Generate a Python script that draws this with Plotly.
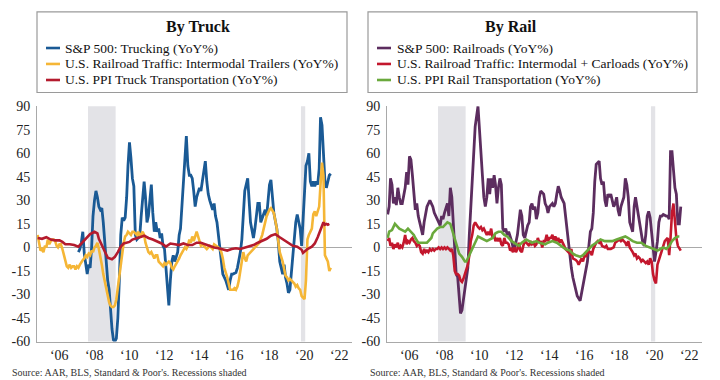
import plotly.graph_objects as go
from plotly.subplots import make_subplots

# ---------------- DATA ----------------
truck_sp_dates = ["2007-05","2007-06","2007-07","2007-08","2007-09","2007-10","2007-11","2007-12",
 "2008-01","2008-02","2008-03","2008-04","2008-05","2008-06","2008-07","2008-08","2008-09","2008-10","2008-11","2008-12",
 "2009-01","2009-02","2009-03","2009-04","2009-05","2009-06","2009-07","2009-08","2009-09","2009-10","2009-11","2009-12",
 "2010-01","2010-02","2010-03","2010-04","2010-05","2010-06","2010-07","2010-08","2010-09","2010-10","2010-11","2010-12",
 "2011-02","2011-03","2011-04","2011-05","2011-07","2011-08","2011-09","2011-10","2011-11","2011-12",
 "2012-01","2012-02","2012-03","2012-04","2012-05","2012-07","2012-08","2012-09","2012-10","2012-11",
 "2013-01","2013-02","2013-03","2013-04","2013-05","2013-07","2013-08","2013-09","2013-10","2013-11","2013-12",
 "2014-01","2014-02","2014-04","2014-05","2014-06","2014-07","2014-08","2014-09","2014-10","2014-11",
 "2015-01","2015-02","2015-03","2015-04","2015-05","2015-06","2015-07","2015-08","2015-10","2015-11","2015-12",
 "2016-01","2016-02","2016-03","2016-05","2016-06","2016-07","2016-08","2016-09","2016-10","2016-11",
 "2017-01","2017-03","2017-05","2017-06","2017-08","2017-09","2017-10","2017-12",
 "2018-01","2018-02","2018-04","2018-05","2018-06","2018-07","2018-09","2018-10","2018-11",
 "2019-01","2019-02","2019-03","2019-04","2019-05","2019-06","2019-07","2019-08","2019-09","2019-10","2019-11",
 "2020-01","2020-02","2020-03","2020-05","2020-06","2020-07","2020-08","2020-09","2020-10","2020-11","2020-12",
 "2021-01","2021-02","2021-03","2021-04","2021-05","2021-06","2021-07","2021-08","2021-09","2021-10"]
truck_sp_vals = [-3,-1,3,10,-4,-10,-17,-11,
 -13,0,20,30,36,32,26,24,25,16,2,-8,
 -21,-27,-40,-52,-59,-60,-58,-45,-21,8,19,17,
 19,32,52,67,57,44,39,8,5,6,7,20,
 42,32,16,20,40,22,10,16,10,12,
 6,9,1,-1,-13,-37,-21,-9,-5,-9,
 -3,8,12,26,46,71,52,46,46,44,36,
 26,32,38,36,42,46,55,42,34,30,
 24,28,20,16,8,-1,-9,-17,-21,-25,-27,
 -21,-17,-17,-16,-13,-9,-3,5,22,36,
 44,16,6,12,28,28,16,22,
 24,20,40,43,32,22,12,4,-9,
 -17,-11,-19,-23,-29,-27,-17,-9,5,16,21,
 12,1,20,52,55,60,42,39,42,39,42,
 40,50,83,78,61,42,38,43,46,47]

truck_rail_dates = ["2005-01","2005-02","2005-03","2005-04","2005-05","2005-06","2005-07","2005-08","2005-09","2005-10","2005-11","2005-12",
 "2006-01","2006-02","2006-03","2006-04","2006-05","2006-06","2006-07","2006-08","2006-09","2006-10","2006-11","2006-12",
 "2007-01","2007-02","2007-03","2007-04","2007-05","2007-06","2007-07","2007-08","2007-09","2007-10","2007-11","2007-12",
 "2008-01","2008-02","2008-03","2008-04","2008-05","2008-06","2008-07","2008-08","2008-09","2008-10","2008-11","2008-12",
 "2009-01","2009-02","2009-03","2009-04","2009-05","2009-06","2009-07","2009-08","2009-09","2009-10","2009-11","2009-12",
 "2010-01","2010-02","2010-03","2010-04","2010-05","2010-06","2010-07","2010-08","2010-09","2010-10","2010-11",
 "2011-01","2011-02","2011-03","2011-04","2011-05","2011-06","2011-07","2011-08","2011-09","2011-10","2011-11","2011-12",
 "2012-02","2012-03","2012-04","2012-05","2012-07","2012-08","2012-09","2012-10","2012-11",
 "2013-01","2013-02","2013-03","2013-04","2013-05","2013-06","2013-07","2013-08","2013-09","2013-10","2013-11","2013-12",
 "2014-02","2014-03","2014-04","2014-05","2014-06","2014-08","2014-09","2014-11",
 "2015-01","2015-02","2015-04","2015-05","2015-06","2015-07","2015-08","2015-09","2015-11","2015-12",
 "2016-01","2016-03","2016-04","2016-05","2016-06","2016-07","2016-08","2016-09","2016-10","2016-11","2016-12",
 "2017-01","2017-03","2017-05","2017-07","2017-09","2017-11","2017-12",
 "2018-02","2018-04","2018-05","2018-07","2018-08","2018-09","2018-10","2018-11",
 "2019-01","2019-02","2019-03","2019-04","2019-05","2019-06","2019-07","2019-09","2019-10","2019-11","2019-12",
 "2020-01","2020-02","2020-04","2020-05","2020-06","2020-07","2020-08","2020-09","2020-10","2020-11","2020-12",
 "2021-01","2021-02","2021-03","2021-04","2021-05","2021-06","2021-07","2021-08","2021-09","2021-10"]
truck_rail_vals = [8,3,-2,-1,-3,1,0,5,2,4,5,5,
 4,1,0,2,2,-1,-5,-10,-12,-13,-11,-13,
 -12,-12,-14,-12,-13,-11,-9,-8,-7,-5,-6,-4,
 -5,-2,-3,0,1,3,-1,-5,-11,-17,-22,-27,
 -31,-35,-37,-38,-38,-37,-33,-25,-17,-9,-3,3,
 7,8,10,9,8,10,10,9,8,10,7,
 10,8,3,-1,-3,-4,-3,-5,-7,-5,-5,-9,
 -11,-12,-10,-11,-9,-10,-13,-14,-12,
 -9,-7,-5,-3,-1,0,-1,1,5,3,7,4,
 10,7,3,1,2,0,-1,1,
 -1,2,1,0,-1,-3,-7,-13,-19,-24,
 -27,-27,-26,-27,-25,-21,-15,-9,-3,-7,-9,
 -5,-3,-1,1,3,8,12,
 20,24,25,22,18,12,4,-3,
 -9,-15,-18,-19,-21,-20,-21,-23,-25,-24,-26,
 -27,-31,-33,-21,5,8,10,12,21,23,20,
 24,26,40,54,46,-5,-7,-9,-15,-13]

truck_ppi_dates = ["2005-01","2005-04","2005-07","2005-10","2006-01","2006-04","2006-06","2006-08","2006-11",
 "2007-02","2007-05","2007-07","2007-09","2007-11","2008-01","2008-04","2008-06","2008-07","2008-09","2008-11",
 "2009-01","2009-04","2009-06","2009-08","2009-10","2009-12","2010-02","2010-04","2010-06","2010-08","2010-11",
 "2011-02","2011-05","2011-08","2011-11","2012-02","2012-05","2012-08","2012-11","2013-02","2013-05","2013-08","2013-11",
 "2014-02","2014-05","2014-08","2014-11","2015-02","2015-05","2015-08","2015-11","2016-02","2016-05","2016-08","2016-11",
 "2017-02","2017-05","2017-08","2017-11","2018-02","2018-05","2018-08","2018-11","2019-02","2019-05","2019-08","2019-11",
 "2020-01","2020-02","2020-03","2020-04","2020-06","2020-09","2020-11","2021-01","2021-03","2021-04","2021-05","2021-06","2021-07","2021-08","2021-09"]
truck_ppi_vals = [6,5.5,6.5,5,4.5,4.5,3.5,2,2,
 1.5,0.5,2.5,4.5,6.5,8.5,10,9,5.5,1.5,-2.5,
 -6.5,-7.5,-6,-3,0.5,2.5,3,3.5,5,5.5,6.5,
 7.5,6,5,4,2.5,0.5,2.5,2,1.5,2.5,1.5,1.5,
 3,3,2,0.5,0,-0.5,-1.5,-2,-1,-0.5,-1,0,
 0.5,1.5,3,4.5,5.5,7.5,8.5,6.5,4.5,2.5,1,0.5,
 -0.5,-1.5,-3.5,-2.5,-1,0.5,2.5,6.5,11,14,16,14.5,15,14.5,15]

rail_sp_dates = ["2005-01","2005-02","2005-03","2005-04","2005-05","2005-06","2005-07","2005-08","2005-09","2005-10","2005-11","2005-12",
 "2006-01","2006-02","2006-03","2006-04","2006-05","2006-06","2006-07","2006-08","2006-09","2006-10","2006-11","2006-12",
 "2007-01","2007-02","2007-03","2007-04","2007-06","2007-07","2007-08","2007-09","2007-10","2007-11",
 "2008-01","2008-02","2008-03","2008-04","2008-05","2008-06","2008-07","2008-08","2008-09","2008-10","2008-11","2008-12",
 "2009-01","2009-02","2009-03","2009-04","2009-05","2009-06","2009-07","2009-08","2009-09","2009-10","2009-11","2009-12",
 "2010-01","2010-03","2010-04","2010-05","2010-06","2010-07","2010-08","2010-09","2010-10","2010-11","2010-12",
 "2011-01","2011-02","2011-03","2011-04","2011-05","2011-06","2011-07","2011-08","2011-09","2011-10","2011-11","2011-12",
 "2012-02","2012-03","2012-04","2012-05","2012-06","2012-08","2012-09","2012-10","2012-11",
 "2013-01","2013-02","2013-03","2013-04","2013-05","2013-06","2013-07","2013-08","2013-09","2013-10","2013-12",
 "2014-01","2014-02","2014-03","2014-04","2014-06","2014-07","2014-08","2014-09","2014-10","2014-11","2014-12",
 "2015-02","2015-03","2015-04","2015-05","2015-06","2015-07","2015-08","2015-09","2015-10","2015-11",
 "2016-01","2016-02","2016-03","2016-04","2016-06","2016-07","2016-08","2016-09","2016-10","2016-11","2016-12",
 "2017-02","2017-03","2017-04","2017-05","2017-06","2017-07","2017-08","2017-09","2017-10","2017-12",
 "2018-01","2018-02","2018-03","2018-04","2018-05","2018-07","2018-08","2018-09","2018-10","2018-11",
 "2019-01","2019-02","2019-03","2019-04","2019-05","2019-06","2019-08","2019-09","2019-10","2019-11","2019-12",
 "2020-01","2020-02","2020-03","2020-04","2020-05","2020-06","2020-07","2020-08","2020-09","2020-10","2020-12",
 "2021-01","2021-02","2021-03","2021-04","2021-05","2021-06","2021-07","2021-08","2021-09","2021-10"]
rail_sp_vals = [21,26,44,40,28,32,27,38,32,28,28,32,
 38,48,40,58,56,46,34,24,28,20,16,12,
 8,16,22,26,30,28,26,22,20,19,
 14,20,18,22,26,28,20,38,32,18,-3,-17,
 -19,-29,-42,-40,-33,-27,-21,-13,8,26,40,58,
 77,90,77,63,46,32,26,32,44,34,44,
 38,46,40,28,38,44,40,12,10,12,8,10,
 4,0,-1,4,8,24,20,8,6,
 14,16,26,28,24,26,18,22,32,36,34,
 28,26,22,26,28,26,28,34,39,36,32,
 28,20,12,4,-7,-13,-19,-23,-27,-31,
 -34,-29,-23,-17,-9,1,10,12,22,42,53,
 55,44,40,42,30,26,34,32,34,26,
 28,32,24,20,26,32,44,40,32,16,
 10,26,32,26,18,12,3,1,8,20,23,
 19,8,-3,-9,-3,4,16,20,20,21,20,
 20,18,61,61,46,38,34,15,15,26]

rail_traffic_dates = ["2005-01","2005-02","2005-03","2005-04","2005-05","2005-06","2005-07","2005-08","2005-09","2005-10","2005-11","2005-12",
 "2006-01","2006-02","2006-03","2006-04","2006-05","2006-06","2006-07","2006-08","2006-09","2006-10","2006-11","2006-12",
 "2007-01","2007-02","2007-03","2007-04","2007-05","2007-06","2007-07","2007-08","2007-09","2007-10","2007-11","2007-12",
 "2008-01","2008-02","2008-03","2008-04","2008-05","2008-06","2008-07","2008-08","2008-09","2008-10","2008-11","2008-12",
 "2009-01","2009-02","2009-03","2009-04","2009-05","2009-06","2009-07","2009-08","2009-09","2009-10","2009-11","2009-12",
 "2010-01","2010-02","2010-03","2010-04","2010-05","2010-06","2010-07","2010-08","2010-09","2010-10","2010-11","2010-12",
 "2011-01","2011-02","2011-03","2011-04","2011-05","2011-06","2011-07","2011-08","2011-09","2011-10","2011-11","2011-12",
 "2012-01","2012-02","2012-03","2012-04","2012-05","2012-06","2012-07","2012-08","2012-09","2012-10","2012-11","2012-12",
 "2013-01","2013-02","2013-03","2013-04","2013-05","2013-06","2013-07","2013-08","2013-09","2013-10","2013-11","2013-12",
 "2014-01","2014-02","2014-03","2014-04","2014-05","2014-06","2014-07","2014-08","2014-09","2014-10","2014-11","2014-12",
 "2015-02","2015-03","2015-05","2015-06","2015-07","2015-08","2015-10","2015-11","2015-12",
 "2016-01","2016-02","2016-03","2016-04","2016-05","2016-06","2016-07","2016-08","2016-09","2016-10","2016-12",
 "2017-01","2017-02","2017-03","2017-04","2017-06","2017-07","2017-08","2017-10","2017-12",
 "2018-01","2018-03","2018-04","2018-05","2018-06","2018-08","2018-09","2018-10","2018-11",
 "2019-01","2019-02","2019-03","2019-04","2019-05","2019-06","2019-07","2019-08","2019-10","2019-11","2019-12",
 "2020-01","2020-02","2020-03","2020-04","2020-05","2020-06","2020-07","2020-08","2020-09","2020-10","2020-11",
 "2021-01","2021-02","2021-03","2021-04","2021-05","2021-06","2021-07","2021-08","2021-09","2021-10"]
rail_traffic_vals = [4,6,1,3,-1,2,0,3,-1,1,0,3,
 8,2,4,3,5,6,4,3,1,2,1,-3,
 -4,-1,-3,-2,-3,-1,-2,-1,-2,-1,-1,0,
 -1,0,-1,0,-1,0,-1,-2,-1,-5,-15,-17,
 -17,-18,-21,-22,-20,-17,-15,-11,-5,4,8,14,
 16,14,13,12,13,11,12,10,8,10,8,12,
 6,8,4,6,4,6,2,1,6,3,3,2,
 -2,-1,-3,0,-3,-1,3,-2,-3,1,4,3,
 2,1,4,2,3,1,2,6,3,4,0,4,
 4,8,4,6,6,8,4,7,4,6,3,5,
 1,-1,-3,-4,-1,-7,-8,-9,-11,
 -9,-7,-9,-5,-6,-3,-3,-3,-5,-1,3,
 4,3,4,1,0,1,-1,-1,0,
 3,4,5,4,5,3,1,4,0,
 -3,-5,-4,-7,-6,-7,-9,-8,-10,-9,-11,
 -7,-9,-17,-21,-23,-11,-7,-5,-2,1,4,
 6,-5,6,22,28,16,6,1,-1,-2]

rail_ppi_dates = ["2005-01","2005-02","2005-04","2005-05","2005-06","2005-07","2005-08","2005-09","2005-11",
 "2006-01","2006-03","2006-05","2006-07","2006-08","2006-09","2006-10","2006-12",
 "2007-02","2007-04","2007-05","2007-07","2007-08","2007-09","2007-11","2008-01","2008-03","2008-04","2008-06","2008-08","2008-09","2008-10","2008-12",
 "2009-01","2009-02","2009-04","2009-05","2009-06","2009-07","2009-08","2009-10","2009-11","2010-01","2010-02","2010-03","2010-05","2010-07","2010-09",
 "2011-01","2011-03","2011-05","2011-07","2011-09","2011-11","2012-02","2012-05","2012-07","2012-09","2012-12",
 "2013-02","2013-04","2013-07","2013-09","2014-01","2014-03","2014-06","2014-09","2014-12",
 "2015-03","2015-06","2015-08","2015-10","2016-01","2016-03","2016-05","2016-07","2016-09","2016-12",
 "2017-03","2017-06","2017-09","2017-11","2018-02","2018-05","2018-08","2018-10","2019-01","2019-04","2019-07","2019-10",
 "2020-01","2020-04","2020-06","2020-08","2020-10","2020-12","2021-02","2021-04","2021-06","2021-08","2021-09"]
rail_ppi_vals = [6,10,11,13,15,14,13,12,11,
 10,12,10,8,6,4,3,3,
 3,3,4,6,9,10,12,13,13,14,16,15,12,8,3,
 -1,-4,-6,-8,-9,-9,-7,-3,0,4,6,7,6,5,4,
 6,9,10,10,8,7,4,2,1,3,5,
 4,3,4,3,2,3,4,3,1,
 -1,-2,-4,-5,-6,-5,-3,-1,1,3,
 5,4,4,4,5,6,7,6,4,3,3,1,
 0,-1,-2,-1,0,-1,1,4,6,7,7]

recessions = [("2007-12-01", "2009-06-30"), ("2020-02-01", "2020-04-30")]
year_ticks = [2006, 2008, 2010, 2012, 2014, 2016, 2018, 2020, 2022]
year_labels = ["‘06", "‘08", "‘10", "‘12", "‘14", "‘16", "‘18", "‘20", "‘22"]
y_ticks = [90, 75, 60, 45, 30, 15, 0, -15, -30, -45, -60]
y_labels = [str(v) for v in y_ticks]

truck_names = ["S&P 500: Trucking (YoY%)",
               "U.S. Railroad Traffic: Intermodal Trailers (YoY%)",
               "U.S. PPI Truck Transportation (YoY%)"]
rail_names = ["S&P 500: Railroads (YoY%)",
              "U.S. Railroad Traffic: Intermodal + Carloads (YoY%)",
              "U.S. PPI Rail Transportation (YoY%)"]
truck_colors = ["#1a5a95", "#f5b636", "#b41b2e"]
rail_colors = ["#5c2d5f", "#c3172d", "#6aa93c"]

FONT = "Liberation Serif"
W, H = 720, 380

def px(x):
    return x / W

def py(y):
    return 1 - y / H

fig = make_subplots(rows=1, cols=2)

def d(s):
    return s + "-15"

left_series = [(truck_sp_dates, truck_sp_vals), (truck_rail_dates, truck_rail_vals), (truck_ppi_dates, truck_ppi_vals)]
right_series = [(rail_sp_dates, rail_sp_vals), (rail_traffic_dates, rail_traffic_vals), (rail_ppi_dates, rail_ppi_vals)]
widths = [2.8, 2.6, 2.6]

for i, (ds, vs) in enumerate(left_series):
    fig.add_trace(go.Scatter(x=[d(s) for s in ds], y=vs, mode="lines", name=truck_names[i],
                             line=dict(color=truck_colors[i], width=widths[i]), showlegend=False), row=1, col=1)
for i, (ds, vs) in enumerate(right_series):
    fig.add_trace(go.Scatter(x=[d(s) for s in ds], y=vs, mode="lines", name=rail_names[i],
                             line=dict(color=rail_colors[i], width=widths[i]), showlegend=False), row=1, col=2)

xdom_l = [px(37), px(352)]
xdom_r = [px(387), px(702)]
ydom = [py(348.3), py(103.3)]

tick_dates = [f"{y}-04-10" for y in year_ticks]
xcommon = dict(type="date", range=["2005-01-01", "2023-01-01"], showgrid=False, zeroline=False,
               showline=True, linecolor="#a9a9a9", linewidth=1,
               tickvals=tick_dates, ticktext=year_labels, ticks="outside", ticklen=1,
               tickcolor="rgba(0,0,0,0)", tickfont=dict(family=FONT, size=14, color="#222"))
ycommon = dict(range=[-60, 90], showgrid=False, zeroline=True, zerolinecolor="#a9a9a9", zerolinewidth=1,
               showline=True, linecolor="#a9a9a9", linewidth=1,
               tickvals=y_ticks, ticktext=y_labels, ticks="outside", ticklen=3,
               tickcolor="rgba(0,0,0,0)", tickfont=dict(family=FONT, size=14, color="#222"))

fig.update_layout(
    width=W, height=H, margin=dict(l=0, r=0, t=0, b=0),
    paper_bgcolor="white", plot_bgcolor="white",
    xaxis=dict(domain=xdom_l, **xcommon), xaxis2=dict(domain=xdom_r, **xcommon),
    yaxis=dict(domain=ydom, **ycommon), yaxis2=dict(domain=ydom, **ycommon),
)

shapes = []
for xr in ["x", "x2"]:
    for a, b in recessions:
        shapes.append(dict(type="rect", xref=xr, yref=("y domain" if xr == "x" else "y2 domain"),
                           x0=a, x1=b, y0=0, y1=1, fillcolor="#e3e3e7", line=dict(width=0), layer="below"))

annotations = []
legend_specs = [
    dict(box=(37, 5, 347, 89), title="By Truck", tx=198, lx=(46, 60), textx=63, names=truck_names, colors=truck_colors),
    dict(box=(368, 5, 697, 89), title="By Rail", tx=511, lx=(377, 391), textx=395, names=rail_names, colors=rail_colors),
]
rows_y = [42.7, 59.3, 76.0]
for spec in legend_specs:
    x0, y0, x1, y1 = spec["box"]
    shapes.append(dict(type="rect", xref="paper", yref="paper", x0=px(x0), x1=px(x1), y0=py(y1), y1=py(y0),
                       line=dict(color="#9a9a9a", width=1.2), fillcolor="rgba(0,0,0,0)"))
    annotations.append(dict(xref="paper", yref="paper", x=px(spec["tx"]), y=py(21), text="<b>" + spec["title"] + "</b>",
                            showarrow=False, xanchor="center", yanchor="middle",
                            font=dict(family=FONT, size=16, color="#111")))
    for name, col, ry in zip(spec["names"], spec["colors"], rows_y):
        shapes.append(dict(type="line", xref="paper", yref="paper", x0=px(spec["lx"][0]), x1=px(spec["lx"][1]),
                           y0=py(ry), y1=py(ry), line=dict(color=col, width=2.6)))
        annotations.append(dict(xref="paper", yref="paper", x=px(spec["textx"]), y=py(ry), text=name,
                                showarrow=False, xanchor="left", yanchor="middle",
                                font=dict(family=FONT, size=13.5, color="#111")))

for sx in [10, 368]:
    annotations.append(dict(xref="paper", yref="paper", x=px(sx), y=py(373), text="Source: AAR, BLS, Standard & Poor's. Recessions shaded",
                            showarrow=False, xanchor="left", yanchor="top",
                            font=dict(family=FONT, size=10, color="#333")))

fig.update_layout(shapes=shapes, annotations=annotations)
fig.write_html("out.html", config={"displayModeBar": False},
               post_script="document.body.style.margin='0';document.body.style.padding='0';document.body.style.overflow='hidden';")
